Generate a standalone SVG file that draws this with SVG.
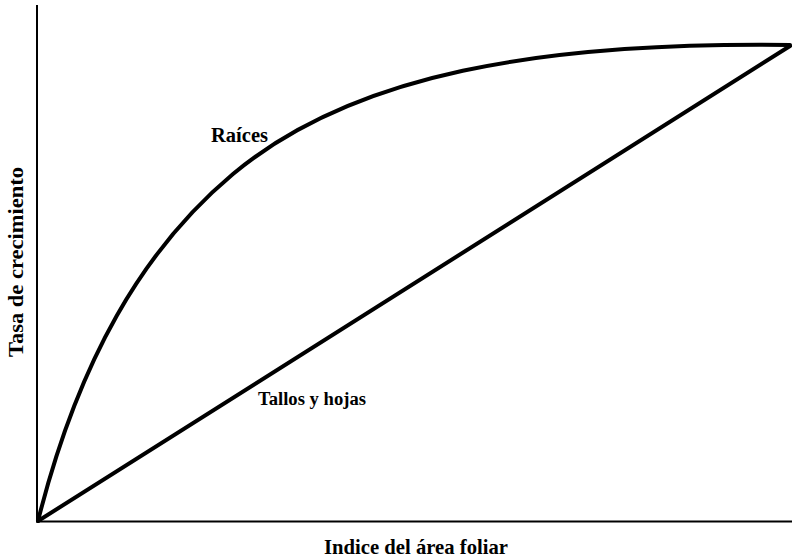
<svg xmlns="http://www.w3.org/2000/svg" width="792" height="558" viewBox="0 0 792 558">
<style>
.axis{stroke:#000;stroke-width:2;fill:none}
.curve{stroke:#000;stroke-width:4;fill:none;stroke-linejoin:round;stroke-linecap:round}
.lbl{font-family:"Liberation Serif","Times New Roman",serif;font-weight:bold;fill:#000}
</style>
<rect width="792" height="558" fill="#fff"/>
<g id="axes">
<line class="axis" x1="37" y1="5" x2="37" y2="522"/>
<line class="axis" x1="36" y1="521.5" x2="792" y2="521.5"/>
</g>
<g id="connectors">
<path id="raices-curve" class="curve" d="M38,521 C78,361 143,249.2 233,174 C353,73.7 540,42 790,45"/>
<line id="tallos-line" class="curve" x1="38" y1="521" x2="790" y2="46"/>
</g>
<g id="label-raices"><text class="lbl" x="211" y="141.5" font-size="20" textLength="57" lengthAdjust="spacingAndGlyphs">Raíces</text></g>
<g id="label-tallos"><text class="lbl" x="258" y="405" font-size="18.5" textLength="108" lengthAdjust="spacingAndGlyphs">Tallos y hojas</text></g>
<g id="label-x"><text class="lbl" x="324" y="554" font-size="21" textLength="184" lengthAdjust="spacingAndGlyphs">Indice del área foliar</text></g>
<g id="label-y"><text class="lbl" x="0" y="0" font-size="22" text-anchor="middle" textLength="190" lengthAdjust="spacingAndGlyphs" transform="translate(23,262) rotate(-90)">Tasa de crecimiento</text></g>
</svg>
